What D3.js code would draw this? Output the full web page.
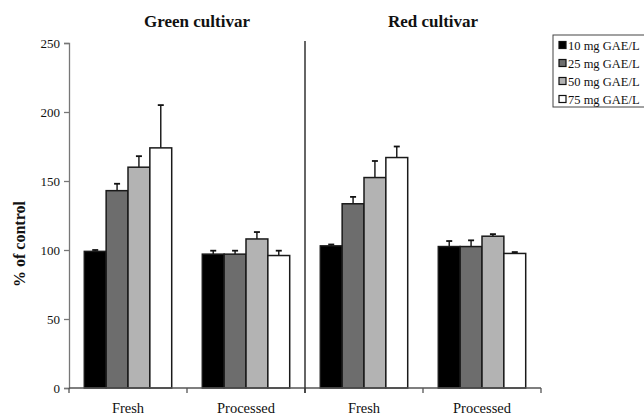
<!doctype html>
<html lang="en">
<head>
<meta charset="utf-8">
<style>
  body { margin: 0; background: #fff; }
  svg text { font-family: "Liberation Serif", "Times New Roman", serif; fill: #111; }
  .title { font-size: 17px; font-weight: bold; }
  .ylab { font-size: 16px; font-weight: bold; }
</style>
<script src="https://cdnjs.cloudflare.com/ajax/libs/d3/7.8.5/d3.min.js"></script>
</head>
<body>
<script>
// data
var cultivars = ["Green cultivar", "Red cultivar"];
var categories = ["Fresh", "Processed"];
var doses = ["10 mg GAE/L", "25 mg GAE/L", "50 mg GAE/L", "75 mg GAE/L"];
var doseColors = ["#000000", "#6d6d6d", "#b3b3b3", "#ffffff"];

// order: green-fresh, green-processed, red-fresh, red-processed
var mean10 = [99, 97, 103, 102.5];
var err10  = [1, 2.5, 1, 4];
var mean25 = [143, 97, 133.5, 102.5];
var err25  = [5, 2.5, 5, 4.5];
var mean50 = [160, 108, 152.5, 110];
var err50  = [8, 5, 12, 1.5];
var mean75 = [174, 96, 167, 97.5];
var err75  = [31, 3.5, 8, 1];

var yTicks = [0, 50, 100, 150, 200, 250];

var means = [mean10, mean25, mean50, mean75];
var errs = [err10, err25, err50, err75];

var width = 644, height = 416;
var plotL = 69, plotR = 541, plotT = 43, plotB = 388;

var groups = [];
cultivars.forEach(function(c) {
  categories.forEach(function(k) { groups.push(c + "|" + k); });
});

var rows = [];
groups.forEach(function(g, gi) {
  doses.forEach(function(d, di) {
    rows.push({ group: g, dose: d, di: di, v: means[di][gi], e: errs[di][gi] });
  });
});

var svg = d3.select("body").append("svg")
    .attr("width", width)
    .attr("height", height);

var x0 = d3.scaleBand().domain(groups).range([plotL, plotR]).padding(0);
var x1 = d3.scaleBand().domain(doses).range([0, x0.bandwidth()])
    .paddingInner(0).paddingOuter(0.7);
var y = d3.scaleLinear().domain([0, 250]).range([plotB, plotT]);

// y axis
var yAxis = svg.append("g")
    .attr("transform", "translate(" + plotL + ",0)")
    .call(d3.axisLeft(y).tickValues(yTicks).tickSize(5).tickPadding(4));
yAxis.select(".domain").attr("stroke", "#777").attr("stroke-width", 1.3);
yAxis.selectAll(".tick line").attr("stroke", "#777").attr("stroke-width", 1.3);
yAxis.selectAll("text")
    .style("font-family", "'Liberation Serif', serif")
    .style("font-size", "13px").attr("fill", "#222");

// bars
var bars = svg.append("g").selectAll("g")
    .data(rows).join("g")
    .attr("transform", function(d) { return "translate(" + (x0(d.group) + x1(d.dose)) + ",0)"; });

// error bars (upper only)
bars.append("line")
    .attr("x1", x1.bandwidth() / 2).attr("x2", x1.bandwidth() / 2)
    .attr("y1", function(d) { return y(d.v); })
    .attr("y2", function(d) { return y(d.v + d.e); })
    .attr("stroke", "#111").attr("stroke-width", 1.4);
bars.append("line")
    .attr("x1", x1.bandwidth() / 2 - 3).attr("x2", x1.bandwidth() / 2 + 3)
    .attr("y1", function(d) { return y(d.v + d.e); })
    .attr("y2", function(d) { return y(d.v + d.e); })
    .attr("stroke", "#111").attr("stroke-width", 1.8);

bars.append("rect")
    .attr("x", 0)
    .attr("width", x1.bandwidth())
    .attr("y", function(d) { return y(d.v); })
    .attr("height", function(d) { return y(0) - y(d.v); })
    .attr("fill", function(d) { return doseColors[d.di]; })
    .attr("stroke", "#1a1a1a").attr("stroke-width", 1.5);

// x axis
var xAxis = svg.append("g")
    .attr("transform", "translate(0," + plotB + ")");
xAxis.append("line")
    .attr("x1", plotL).attr("x2", plotR)
    .attr("stroke", "#555").attr("stroke-width", 1.3);
xAxis.selectAll(".tk")
    .data(groups.map(function(g) { return x0(g); }).concat([plotR]))
    .join("line")
    .attr("x1", function(d) { return d; }).attr("x2", function(d) { return d; })
    .attr("y1", 0).attr("y2", 5)
    .attr("stroke", "#555").attr("stroke-width", 1.3);
xAxis.selectAll("text")
    .data(groups).join("text")
    .attr("x", function(g) { return x0(g) + x0.bandwidth() / 2; })
    .attr("y", 25)
    .attr("text-anchor", "middle")
    .style("font-size", "14.5px")
    .text(function(g) { return g.split("|")[1]; });

// divider between cultivars
var divX = x0(cultivars[1] + "|" + categories[0]);
svg.append("line")
    .attr("x1", divX).attr("x2", divX)
    .attr("y1", y(250) - 2).attr("y2", plotB + 5)
    .attr("stroke", "#333").attr("stroke-width", 1.5);

// panel titles
cultivars.forEach(function(c) {
  var a = x0(c + "|" + categories[0]), b = x0(c + "|" + categories[1]) + x0.bandwidth();
  svg.append("text")
      .attr("class", "title")
      .attr("x", (a + b) / 2 + 10)
      .attr("y", 27)
      .attr("text-anchor", "middle")
      .text(c);
});

// y label
svg.append("text")
    .attr("class", "ylab")
    .attr("transform", "translate(25,244) rotate(-90)")
    .attr("text-anchor", "middle")
    .text("% of control");

// legend
var lg = svg.append("g").attr("transform", "translate(553,35)");
lg.append("rect")
    .attr("x", 0).attr("y", 0).attr("width", 100).attr("height", 72)
    .attr("fill", "#fff").attr("stroke", "#444").attr("stroke-width", 1);
var li = lg.selectAll(".li").data(doses).join("g")
    .attr("transform", function(d, i) { return "translate(6," + (10 + i * 18) + ")"; });
li.append("rect")
    .attr("x", 0).attr("y", -3.5).attr("width", 7).attr("height", 7)
    .attr("fill", function(d, i) { return doseColors[i]; })
    .attr("stroke", "#111").attr("stroke-width", 1.2);
li.append("text")
    .attr("x", 9).attr("y", 4.5)
    .style("font-size", "12.5px")
    .text(function(d) { return d; });
</script>
</body>
</html>
